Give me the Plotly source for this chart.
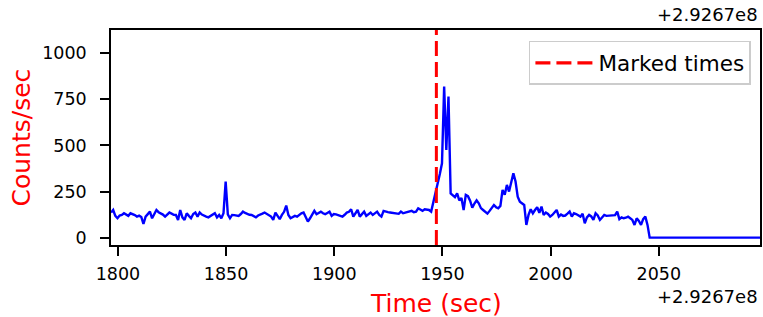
import numpy as np
import plotly.graph_objects as go

# Time grid (seconds, offset +2.9267e8 removed), 1-s bins
t_start = 1796.8
t_step = 1.0

counts = [
    136, 150, 118, 105, 120, 123, 132, 126, 118, 132,
    128, 122, 114, 119, 112, 74, 114, 130, 141, 105,
    124, 150, 138, 132, 125, 114, 126, 136, 130, 124,
    123, 96, 150, 110, 96, 132, 118, 105, 128, 136,
    114, 136, 125, 118, 114, 110, 118, 123, 132, 110,
    123, 105, 132, 304, 126, 105, 123, 122, 120, 118,
    128, 141, 134, 127, 124, 123, 118, 110, 120, 127,
    130, 136, 128, 120, 114, 96, 136, 118, 100, 123,
    140, 174, 123, 105, 112, 118, 114, 124, 132, 136,
    110, 87, 105, 125, 145, 127, 132, 141, 132, 127,
    134, 141, 118, 128, 126, 123, 118, 114, 124, 136,
    140, 154, 114, 132, 150, 114, 128, 141, 118, 127,
    136, 123, 132, 141, 123, 114, 145, 140, 138, 136,
    134, 133, 132, 129, 141, 132, 136, 138, 141, 145,
    138, 141, 159, 150, 145, 154, 150, 150, 141, 190,
    230, 290, 345, 403, 819, 476, 765, 240, 232, 220,
    240, 202, 215, 149, 232, 225, 200, 162, 185, 202,
    186, 160, 150, 138, 130, 145, 159, 177, 165, 159,
    172, 259, 232, 286, 250, 300, 349, 304, 222, 195,
    184, 177, 69, 123, 154, 132, 150, 165, 135, 168,
    123, 136, 128, 114, 123, 135, 150, 114, 125, 118,
    120, 130, 141, 114, 132, 128, 120, 114, 130, 78,
    110, 123, 115, 96, 132, 120, 96, 110, 123, 118,
    118, 120, 118, 122, 141, 100, 110, 105, 108, 114,
    105, 96, 69, 105, 90, 69, 100, 114, 69, 0,
    0, 0, 0, 0, 0, 0, 0, 0, 0, 0,
    0, 0, 0, 0, 0, 0, 0, 0, 0, 0,
    0, 0, 0, 0, 0, 0, 0, 0, 0, 0,
    0, 0, 0, 0, 0, 0, 0, 0, 0, 0,
    0, 0, 0, 0, 0, 0, 0, 0, 0, 0,
    0,
]
times = t_start + t_step * np.arange(len(counts))

marked_times = [1947.2]
x_ticks = [1800, 1850, 1900, 1950, 2000, 2050]
y_ticks = [0, 250, 500, 750, 1000]
offset_label = "+2.9267e8"

FONT = "DejaVu Sans"
dash_pat = "15px,6px"

fig = go.Figure()
fig.add_trace(go.Scatter(x=times, y=counts, mode="lines",
                         line=dict(color="blue", width=2.4), showlegend=False,
                         hoverinfo="skip"))
for mt in marked_times:
    fig.add_vline(x=mt, line=dict(color="red", width=3, dash=dash_pat))
fig.add_trace(go.Scatter(x=[None], y=[None], mode="lines", name="Marked times",
                         line=dict(color="red", width=3.2, dash=dash_pat)))

axis_common = dict(showline=True, linecolor="black", linewidth=1.6, mirror=True,
                   ticks="outside", ticklen=9, tickwidth=1.6, tickcolor="black",
                   showgrid=False, zeroline=False, automargin=False,
                   tickfont=dict(family=FONT, size=17.5, color="black"))

fig.update_layout(
    width=763, height=317,
    margin=dict(l=111, r=3, t=30, b=72),
    paper_bgcolor="white", plot_bgcolor="white",
    font=dict(family=FONT, color="black"),
    xaxis=dict(range=[times[0], times[-1]], tickvals=x_ticks,
               ticklabelstandoff=3, **axis_common),
    yaxis=dict(range=[-40, 1126], tickvals=y_ticks,
               ticklabelstandoff=10, **axis_common),
    legend=dict(x=0.986, y=0.949, xanchor="right", yanchor="top",
                bgcolor="white", bordercolor="#cccccc", borderwidth=1.5,
                itemwidth=58,
                font=dict(family=FONT, size=21.5, color="black")),
)

fig.add_annotation(text="Time (sec)", xref="paper", yref="paper", x=0.5, y=0.0,
                   xanchor="center", yanchor="middle", showarrow=False, yshift=-58,
                   font=dict(family=FONT, size=25, color="red"))
fig.add_annotation(text="Counts/sec", xref="paper", yref="paper", x=0.0, y=0.5,
                   xanchor="center", yanchor="middle", showarrow=False, xshift=-90,
                   textangle=-90, font=dict(family=FONT, size=25, color="red"))
fig.add_annotation(text=offset_label, xref="paper", yref="paper", x=1.0, y=1.0,
                   xanchor="right", yanchor="middle", showarrow=False, yshift=16,
                   font=dict(family=FONT, size=18, color="black"))
fig.add_annotation(text=offset_label, xref="paper", yref="paper", x=1.0, y=0.0,
                   xanchor="right", yanchor="middle", showarrow=False, yshift=-51,
                   font=dict(family=FONT, size=18, color="black"))

fig.write_html("out.html", config={"displayModeBar": False},
               post_script="document.body.style.margin='0';")
